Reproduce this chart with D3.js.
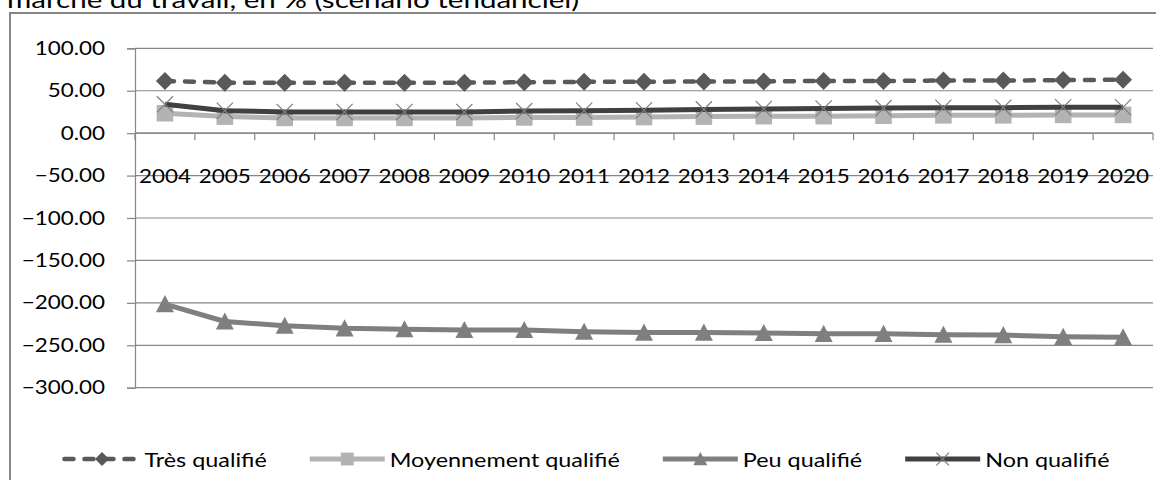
<!DOCTYPE html>
<html>
<head>
<meta charset="utf-8">
<script src="https://cdn.jsdelivr.net/npm/d3@7"></script>
<style>
  html, body { margin: 0; padding: 0; background: #ffffff; }
  svg { display: block; }
  text { font-family: Lato, "Open Sans", sans-serif; fill: #000; }
</style>
</head>
<body>
<svg id="chart" width="1156" height="480"></svg>
<script>
// Categories (years) and the four series, in %
const years = ["2004","2005","2006","2007","2008","2009","2010","2011","2012","2013","2014","2015","2016","2017","2018","2019","2020"];
const tresQualifie        = [61.5, 59.5, 59.5, 59.5, 59.5, 59.5, 60, 60.5, 60.5, 61, 61, 61.5, 61.5, 62, 62, 62.5, 63];
const moyennementQualifie = [23.5, 19.5, 18, 18, 18, 18, 18.5, 18.5, 19, 19.5, 20, 20, 20.5, 21, 21, 21.5, 21.5];
const peuQualifie         = [-201.5, -222, -227, -230, -231, -232, -232, -234, -235, -235, -235.5, -236.5, -236.5, -237.5, -238, -240, -240.5];
const nonQualifie         = [34, 26.5, 25, 25, 25, 25, 26, 26.5, 27, 28, 28.5, 29, 29.5, 30, 30, 30.5, 30.5];
const yTicks = [100, 50, 0, -50, -100, -150, -200, -250, -300];
const seriesNames = ["Très qualifié", "Moyennement qualifié", "Peu qualifié", "Non qualifié"];
const titleText = "marché du travail, en % (scénario tendanciel)";

const series = [
  { name: seriesNames[0], values: tresQualifie,        color: "#595959", width: 4.5, dash: "9,11", marker: "diamond",  mcolor: "#595959" },
  { name: seriesNames[1], values: moyennementQualifie, color: "#b3b3b3", width: 5,   dash: null,   marker: "square",   mcolor: "#b3b3b3" },
  { name: seriesNames[2], values: peuQualifie,         color: "#7f7f7f", width: 5,   dash: null,   marker: "triangle", mcolor: "#7f7f7f" },
  { name: seriesNames[3], values: nonQualifie,         color: "#404040", width: 5,   dash: null,   marker: "cross",    mcolor: "#7f7f7f" }
];

const AXIS_STRETCH = 1.18;     // glyph widening for axis labels
const TEXT_STRETCH = 1.23;     // glyph widening for title and legend
const GRID = "#868686";

const svg = d3.select("#chart");

// widen text horizontally by a constant factor
function widen(sel, k) {
  sel.each(function () {
    const w = this.getComputedTextLength();
    this.setAttribute("textLength", w * k);
    this.setAttribute("lengthAdjust", "spacingAndGlyphs");
  });
  return sel;
}

// title (partly above the visible area) and chart frame
widen(svg.append("text")
  .attr("x", 7).attr("y", 7.5)
  .style("font-size", "24px")
  .text(titleText), TEXT_STRETCH);

svg.append("path")
  .attr("d", "M10,1200 L10,13 L1200,13")
  .attr("fill", "none").attr("stroke", GRID).attr("stroke-width", 2);

// scales
const x = d3.scaleBand().domain(years).range([135, 1153]).paddingInner(0).paddingOuter(0);
const y = d3.scaleLinear().domain([-300, 100]).range([387.7, 48.3]);
const [x0, x1] = x.range();

// horizontal gridlines
svg.append("g").selectAll("line").data(yTicks).join("line")
  .attr("x1", x0).attr("x2", x1)
  .attr("y1", d => y(d)).attr("y2", d => y(d))
  .attr("stroke", GRID).attr("stroke-width", 1.2);

// value axis
const yAxis = d3.axisLeft(y).tickValues(yTicks).tickSize(8).tickPadding(22).tickFormat(d3.format(".2f"));
const gy = svg.append("g").attr("transform", `translate(${x0},0)`).call(yAxis);
gy.select(".domain").attr("stroke", GRID).attr("stroke-width", 1.2);
gy.selectAll(".tick line").attr("stroke", GRID).attr("stroke-width", 1.2);
gy.selectAll(".tick text").style("font-size", "19px").attr("fill", "#000")
  .style("font-family", "Lato, 'Open Sans', sans-serif");
widen(gy.selectAll(".tick text"), AXIS_STRETCH);

// category axis crossing at zero, with tick marks between categories
const y0 = y(0);
svg.append("line").attr("x1", x0).attr("x2", x1).attr("y1", y0).attr("y2", y0)
  .attr("stroke", GRID).attr("stroke-width", 1.2);
const boundaries = years.map(d => x(d)).concat([x1]);
svg.append("g").selectAll("line").data(boundaries).join("line")
  .attr("x1", d => d).attr("x2", d => d).attr("y1", y0).attr("y2", y0 + 7)
  .attr("stroke", GRID).attr("stroke-width", 1.2);
const catLabels = svg.append("g").selectAll("text").data(years).join("text")
  .attr("x", d => x(d) + x.bandwidth() / 2)
  .attr("y", 175)
  .attr("text-anchor", "middle")
  .attr("dominant-baseline", "central")
  .style("font-size", "19px")
  .text(d => d);
widen(catLabels, AXIS_STRETCH);

// marker shapes
function drawMarker(g, kind, cx, cy, s, color) {
  const h = s / 2;
  if (kind === "diamond") {
    g.append("path").attr("d", `M${cx},${cy - h} L${cx + h},${cy} L${cx},${cy + h} L${cx - h},${cy} Z`).attr("fill", color);
  } else if (kind === "square") {
    g.append("rect").attr("x", cx - h * 0.92).attr("y", cy - h * 0.92).attr("width", s * 0.92).attr("height", s * 0.92).attr("fill", color);
  } else if (kind === "triangle") {
    g.append("path").attr("d", `M${cx},${cy - h} L${cx + h},${cy + h * 0.9} L${cx - h},${cy + h * 0.9} Z`).attr("fill", color);
  } else if (kind === "cross") {
    const k = h * 0.9;
    g.append("path").attr("d", `M${cx - k},${cy - k} L${cx + k},${cy + k} M${cx + k},${cy - k} L${cx - k},${cy + k}`)
      .attr("stroke", color).attr("stroke-width", 1.2).attr("fill", "none");
  }
}

// series lines and markers
const line = d3.line().x((d, i) => x(years[i]) + x.bandwidth() / 2).y(d => y(d));
series.forEach(s => {
  const g = svg.append("g");
  g.append("path").attr("d", line(s.values))
    .attr("fill", "none").attr("stroke", s.color).attr("stroke-width", s.width)
    .attr("stroke-linejoin", "round")
    .attr("stroke-linecap", s.dash ? "round" : "butt")
    .attr("stroke-dasharray", s.dash);
  s.values.forEach((v, i) => drawMarker(g, s.marker, x(years[i]) + x.bandwidth() / 2, y(v), 18, s.mcolor));
});

// legend, centred under the plot
const legendY = 459, symbolLen = 75, textGap = 5, itemGap = 43, legendCenter = 587;
const lg = svg.append("g");
const items = series.map(s => {
  const g = lg.append("g");
  g.append("line").attr("x1", 0).attr("x2", symbolLen).attr("y1", legendY).attr("y2", legendY)
    .attr("stroke", s.color).attr("stroke-width", s.width)
    .attr("stroke-linecap", s.dash ? "round" : "butt")
    .attr("stroke-dasharray", s.dash);
  drawMarker(g, s.marker, symbolLen / 2, legendY, 14, s.mcolor);
  const t = g.append("text").attr("x", symbolLen + textGap).attr("y", legendY)
    .attr("dominant-baseline", "central").style("font-size", "19px").text(s.name);
  const natural = t.node().getComputedTextLength();
  widen(t, TEXT_STRETCH);
  const w = symbolLen + textGap + natural * TEXT_STRETCH;
  return { g, w };
});
const total = d3.sum(items, d => d.w) + itemGap * (items.length - 1);
let cursor = legendCenter - total / 2;
items.forEach(it => { it.g.attr("transform", `translate(${cursor},0)`); cursor += it.w + itemGap; });
</script>
</body>
</html>
